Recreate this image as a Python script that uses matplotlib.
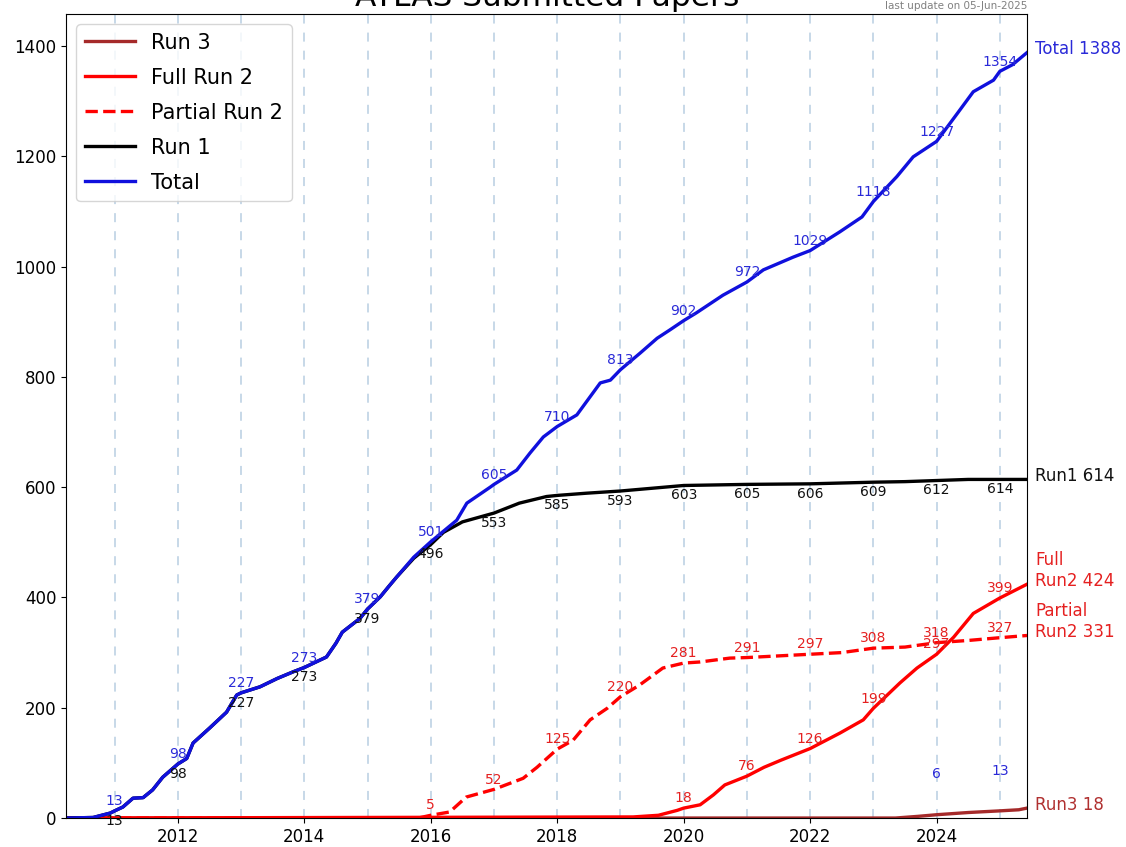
import numpy as np
import matplotlib
matplotlib.use('Agg')
import matplotlib.pyplot as plt

# cumulative number of submitted papers (decimal years)
total_t = [2010.23, 2010.66, 2010.93, 2011.0, 2011.13, 2011.29, 2011.45, 2011.6, 2011.76, 2012.0,
           2012.14, 2012.24, 2012.5, 2012.77, 2012.93, 2013.0, 2013.3, 2013.57, 2013.82, 2014.0,
           2014.35, 2014.5, 2014.6, 2014.88, 2015.0, 2015.2, 2015.35, 2015.46, 2015.73, 2016.0,
           2016.41, 2016.57, 2016.94, 2017.0, 2017.36, 2017.57, 2017.78, 2018.0, 2018.31, 2018.68,
           2018.84, 2019.0, 2019.31, 2019.58, 2019.78, 2020.0, 2020.2, 2020.62, 2021.0, 2021.26,
           2021.73, 2022.0, 2022.47, 2022.82, 2023.0, 2023.37, 2023.63, 2024.0, 2024.33, 2024.58,
           2024.9, 2025.0, 2025.2, 2025.43]
total_v = [0, 1, 9, 13, 20, 36, 37, 51, 74, 98,
           108, 136, 163, 192, 223, 227, 238, 253, 265, 273,
           292, 317, 337, 362, 379, 401, 422, 437, 473, 501,
           540, 571, 600, 605, 631, 662, 691, 710, 731, 789,
           794, 813, 843, 870, 885, 902, 916, 948, 972, 994,
           1017, 1029, 1063, 1090, 1118, 1163, 1199, 1227, 1278, 1317,
           1338, 1354, 1366, 1388]

run1_t = [2010.23, 2010.66, 2010.93, 2011.0, 2011.13, 2011.29, 2011.45, 2011.6, 2011.76, 2012.0,
          2012.14, 2012.24, 2012.5, 2012.77, 2012.93, 2013.0, 2013.3, 2013.57, 2013.82, 2014.0,
          2014.35, 2014.5, 2014.6, 2014.88, 2015.0, 2015.2, 2015.35, 2015.46, 2015.73, 2016.0,
          2016.2, 2016.5, 2017.0, 2017.4, 2017.83, 2018.0, 2018.46, 2019.0, 2019.5, 2020.0,
          2020.5, 2021.0, 2022.0, 2023.0, 2023.5, 2024.0, 2024.5, 2025.0, 2025.43]
run1_v = [0, 1, 9, 13, 20, 36, 37, 51, 74, 98,
          108, 136, 163, 192, 223, 227, 238, 253, 265, 273,
          292, 317, 337, 362, 379, 401, 422, 437, 471, 496,
          518, 537, 553, 571, 583, 585, 589, 593, 598, 603,
          604, 605, 606, 609, 610, 612, 614, 614, 614]

partial_t = [2010.23, 2015.8, 2016.0, 2016.3, 2016.56, 2017.0, 2017.46, 2017.68, 2018.0, 2018.25,
             2018.52, 2018.79, 2019.0, 2019.3, 2019.67, 2020.0, 2020.26, 2020.73, 2021.0, 2022.0,
             2022.5, 2023.0, 2023.5, 2024.0, 2024.5, 2025.0, 2025.43]
partial_v = [0, 0, 5, 11, 38, 52, 72, 92, 125, 141,
             178, 199, 220, 241, 272, 281, 283, 290, 291, 297,
             300, 308, 310, 318, 322, 327, 331]

full_t = [2010.23, 2019.2, 2019.6, 2019.9, 2020.0, 2020.26, 2020.47, 2020.65, 2021.0, 2021.27,
          2021.54, 2022.0, 2022.47, 2022.84, 2023.0, 2023.42, 2023.69, 2024.0, 2024.27, 2024.58,
          2025.0, 2025.43]
full_v = [0, 2, 5, 14, 18, 24, 42, 60, 76, 92,
          105, 126, 154, 178, 199, 245, 272, 297, 328, 371,
          399, 424]

run3_t = [2010.23, 2023.35, 2023.7, 2024.0, 2024.5, 2025.0, 2025.3, 2025.43]
run3_v = [0, 0, 3, 6, 10, 13, 15, 18]

# numbers written at the start of each year
lbl_years = list(range(2011, 2026))
total_lbl = [13, 98, 227, 273, 379, 501, 605, 710, 813, 902, 972, 1029, 1118, 1227, 1354]
run1_lbl = [13, 98, 227, 273, 379, 496, 553, 585, 593, 603, 605, 606, 609, 612, 614]
partial_years = list(range(2016, 2026))
partial_lbl = [5, 52, 125, 220, 281, 291, 297, 308, 318, 327]
full_years = list(range(2020, 2026))
full_lbl = [18, 76, 126, 199, 297, 399]
run3_years = [2024, 2025]
run3_lbl = [6, 13]

fig = plt.figure(figsize=(11.26, 8.47), dpi=100)
ax = fig.add_axes([0.0586, 0.0342, 0.8535, 0.9493])

for y in lbl_years:
    ax.axvline(y, color='#a9c4dc', ls=(0, (5, 5)), lw=1.3, alpha=0.7, zorder=0)

ax.plot(run3_t, run3_v, color='brown', lw=2.4, label='Run 3')
ax.plot(full_t, full_v, color='red', lw=2.4, label='Full Run 2')
ax.plot(partial_t, partial_v, color='red', lw=2.4, ls='--', label='Partial Run 2')
ax.plot(run1_t, run1_v, color='black', lw=2.4, label='Run 1')
ax.plot(total_t, total_v, color='#1010dd', lw=2.4, label='Total')

for x, v in zip(lbl_years, total_lbl):
    ax.annotate(str(v), (x, v), xytext=(0, 2), textcoords='offset points',
                ha='center', va='bottom', color='#2a2ad8', fontsize=10)
for x, v in zip(lbl_years, run1_lbl):
    ax.annotate(str(v), (x, v), xytext=(0, -2), textcoords='offset points',
                ha='center', va='top', color='#111111', fontsize=10)
for x, v in zip(partial_years, partial_lbl):
    ax.annotate(str(v), (x, v), xytext=(0, 2), textcoords='offset points',
                ha='center', va='bottom', color='#e52020', fontsize=10)
for x, v in zip(full_years, full_lbl):
    ax.annotate(str(v), (x, v), xytext=(0, 2), textcoords='offset points',
                ha='center', va='bottom', color='#e52020', fontsize=10)
for x, v in zip(run3_years, run3_lbl):
    ax.annotate(str(v), (x, v), xytext=(0, 24), textcoords='offset points',
                ha='center', va='bottom', color='#2a2ad8', fontsize=10)

# totals written to the right of the axes
end_x = total_t[-1]
end_kw = dict(textcoords='offset points', xytext=(6, -4), ha='left', va='bottom',
              fontsize=12, annotation_clip=False)
ax.annotate('Total %d' % total_v[-1], (end_x, total_v[-1]), color='#2a2ad8', **end_kw)
ax.annotate('Run1 %d' % run1_v[-1], (end_x, run1_v[-1]), color='#111111', **end_kw)
ax.annotate('Full\nRun2 %d' % full_v[-1], (end_x, full_v[-1]), color='#e52020', **end_kw)
ax.annotate('Partial\nRun2 %d' % partial_v[-1], (end_x, partial_v[-1]), color='#e52020', **end_kw)
ax.annotate('Run3 %d' % run3_v[-1], (end_x, run3_v[-1]), color='#b03030', **end_kw)

ax.set_xlim(total_t[0], total_t[-1])
ax.set_ylim(0, 1458)
ax.set_xticks(range(2012, 2025, 2))
ax.set_yticks(range(0, 1401, 200))
ax.tick_params(axis='both', labelsize=12)

ax.legend(loc='upper left', fontsize=15, labelspacing=0.72, handlelength=2.4)

fig.text(0.486, 1 - 6 / 847, 'ATLAS Submitted Papers', ha='center', va='baseline', fontsize=22.5)
ax.text(1.0, 1.004, 'last update on 05-Jun-2025', transform=ax.transAxes, ha='right', va='bottom',
        fontsize=7.5, color='gray', family=['Liberation Sans Narrow', 'DejaVu Sans'])

fig.savefig('out.png', dpi=100)
